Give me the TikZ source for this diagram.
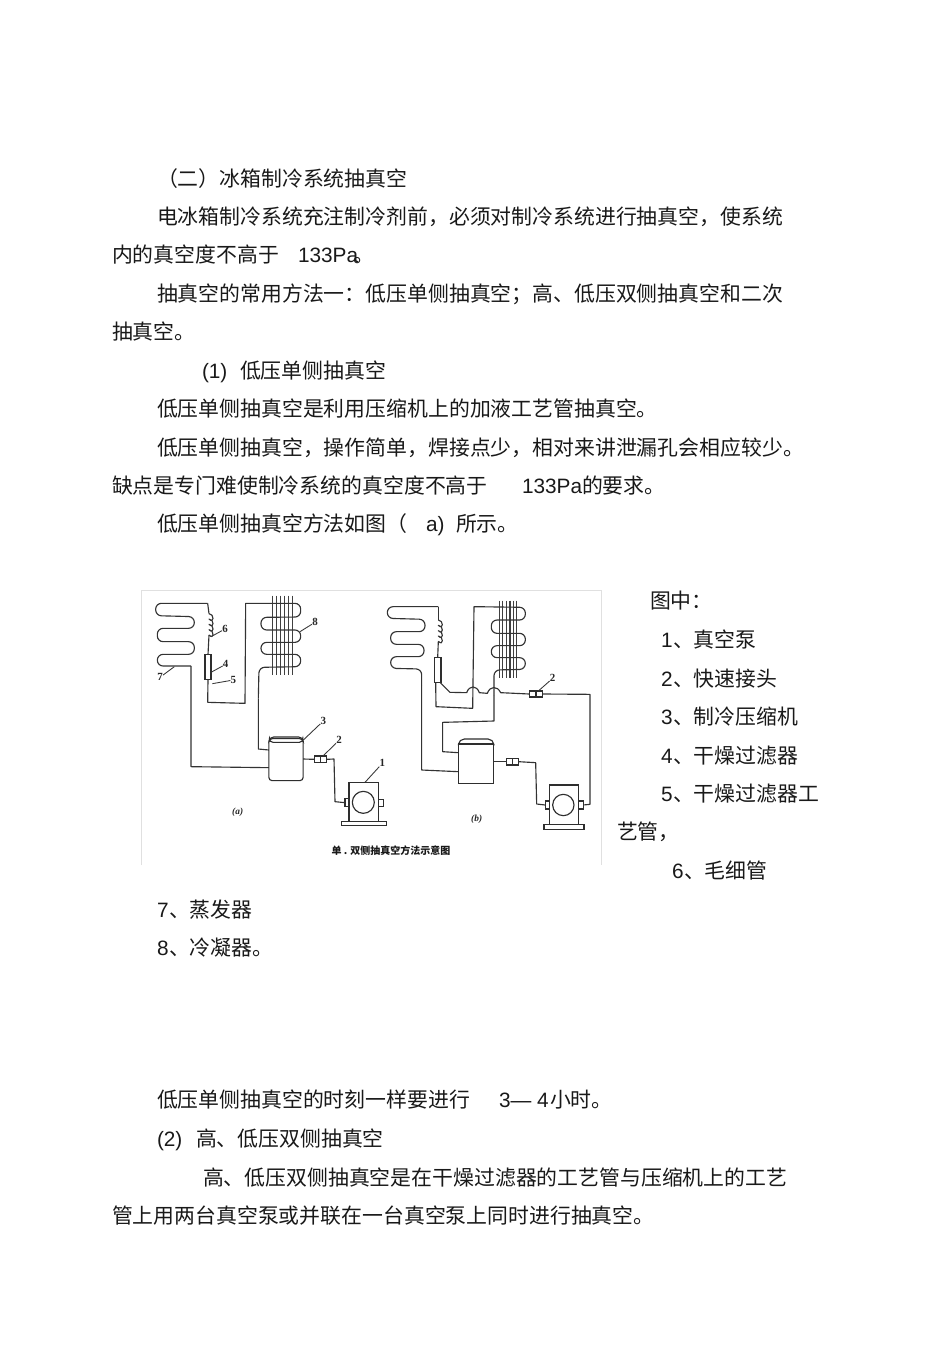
\documentclass[tikz,border=0pt]{standalone}
\usepackage{fontspec}
\setmainfont{Liberation Sans}
\newfontfamily\cjk{Noto Sans CJK SC}
\newfontfamily\lat{Liberation Sans}
\newfontfamily\digit{Liberation Serif}
\newcommand{\coilpath}[2]{%
(#1,#2) .. controls +(16,0) and +(16,16) .. +(0,16)
 .. controls +(16,0) and +(16,16) .. +(0,32)
 .. controls +(16,0) and +(16,16) .. +(0,48)
 .. controls +(16,0) and +(16,16) .. +(0,64)}
\tikzset{
 txt/.style={anchor=base west,inner sep=0pt,outer sep=0pt,text=black!90,font=\fontsize{15.65pt}{19pt}\selectfont\cjk},
 ltxt/.style={txt,font=\fontsize{15.6pt}{19pt}\selectfont\lat},
 pipe/.style={draw=black!80,line width=0.85pt,line join=round},
 grid line/.style={draw=black!75,line width=0.85pt},
 leader/.style={draw=black!78,line width=0.65pt},
 part/.style={draw=black!82,line width=0.85pt,fill=white,inner sep=0pt,outer sep=0pt},
 num/.style={inner sep=0pt,text=black!85,font=\fontsize{8.2pt}{9pt}\selectfont\digit\bfseries},
 tag/.style={inner sep=0pt,text=black!85,font=\fontsize{7pt}{8pt}\selectfont\digit\bfseries\itshape},
 frameline/.style={draw=black!12,line width=0.6pt}
}
\begin{document}
\begin{tikzpicture}[x=0.75pt,y=-0.75pt]
\useasboundingbox[fill=white] (0,0) rectangle (950,1345);
% ---------- text ----------
\node[txt] (t1) at (157,186) {（二）冰箱制冷系统抽真空};
\node[txt] (t2) at (157,224) {电冰箱制冷系统充注制冷剂前，必须对制冷系统进行抽真空，使系统};
\node[txt] (t3) at (112,262) {内的真空度不高于};
\node[ltxt] (t3b) at (298,262) {133Pa};
\node[txt] (t3c) at (353.5,262) {。};
\node[txt] (t4) at (157,301) {抽真空的常用方法一：低压单侧抽真空；高、低压双侧抽真空和二次};
\node[txt] (t5) at (112,339) {抽真空。};
\node[ltxt] (t6a) at (202,378) {(1)};
\node[txt] (t6) at (240,378) {低压单侧抽真空};
\node[txt] (t7) at (157,416) {低压单侧抽真空是利用压缩机上的加液工艺管抽真空。};
\node[txt] (t8) at (157,455) {低压单侧抽真空，操作简单，焊接点少，相对来讲泄漏孔会相应较少。};
\node[txt] (t9) at (112,493) {缺点是专门难使制冷系统的真空度不高于};
\node[ltxt] (t9b) at (522,493) {133Pa};
\node[txt] (t9c) at (582,493) {的要求。};
\node[txt] (t10) at (157,531) {低压单侧抽真空方法如图（};
\node[ltxt] (t10b) at (426,531) {a)};
\node[txt] (t10c) at (456,531) {所示。};
\node[txt] (l0) at (650,608) {图中：};
\node[ltxt] (n1) at (661,647) {1};
\node[txt] (l1) at (673,647) {、真空泵};
\node[ltxt] (n2) at (661,686) {2};
\node[txt] (l2) at (673,686) {、快速接头};
\node[ltxt] (n3) at (661,724) {3};
\node[txt] (l3) at (673,724) {、制冷压缩机};
\node[ltxt] (n4) at (661,763) {4};
\node[txt] (l4) at (673,763) {、干燥过滤器};
\node[ltxt] (n5) at (661,801) {5};
\node[txt] (l5) at (673,801) {、干燥过滤器工};
\node[txt] (l5b) at (617,839) {艺管，};
\node[ltxt] (n6) at (672,878) {6};
\node[txt] (l6) at (684,878) {、毛细管};
\node[ltxt] (n7) at (157,917) {7};
\node[txt] (l7) at (169,917) {、蒸发器};
\node[ltxt] (n8) at (157,955) {8};
\node[txt] (l8) at (169,955) {、冷凝器。};
\node[txt] (t11) at (157,1107) {低压单侧抽真空的时刻一样要进行};
\node[ltxt] (t11b) at (499,1107) {3— 4};
\node[txt] (t11c) at (550,1107) {小时。};
\node[ltxt] (t12a) at (157,1146) {(2)};
\node[txt] (t12) at (196,1146) {高、低压双侧抽真空};
\node[txt] (t13) at (203,1185) {高、低压双侧抽真空是在干燥过滤器的工艺管与压缩机上的工艺};
\node[txt] (t14) at (112,1223) {管上用两台真空泵或并联在一台真空泵上同时进行抽真空。};
% ---------- picture frame ----------
\coordinate (fa) at (141,865);
\coordinate (fb) at (141,590);
\coordinate (fc) at (601,590);
\coordinate (fd) at (601,865);
\draw[frameline] (fa) -- (fb) -- (fc) -- (fd);
% ---------- diagram (a) ----------
\begin{scope}[shift={(135,585)},x=0.25pt,y=-0.25pt]
 \foreach \gx in {412,425,437,448,460,472} \draw[grid line] (\gx,32) -- (\gx,270);
 \node[part,minimum width=4.5pt,minimum height=18.75pt] (drierA) at (219,246) {};
 \node[part,rounded corners=2.5pt,minimum width=25.75pt,minimum height=31.5pt] (compA) at (453,524) {};
 \node[part,minimum width=8.75pt,minimum height=5pt] (jointA) at (557,523) {};
 \node[part,minimum width=3pt,minimum height=5.75pt] (stubAl) at (636,653) {};
 \node[part,minimum width=22pt,minimum height=29.5pt] (pumpA) at (686,651) {};
 \node[part,minimum width=3.75pt,minimum height=5.5pt] (stubAr) at (737,654) {};
 \node[part,minimum width=33.75pt,minimum height=3pt] (baseA) at (687,716) {};
 \node[part,circle,minimum size=16.5pt] (rotorA) at (685,652) {};
 \draw[part] (jointA.north) -- (jointA.south);
 \draw[part,fill=none,rounded corners=3pt] (402,472) -- (404,456) -- (503,456) -- (505,472) -- cycle;
 % evaporator
 \coordinate (evA) at (218,55);
 \coordinate (evAe) at (168,243);
 \draw[pipe,rounded corners=4.3pt] (evA) -- (62,55) -- (62,92) -- (178,95) -- (178,130) -- (67,130) -- (67,170) -- (178,170) -- (178,208) -- (67,208) -- (67,243) -- (evAe);
 \draw[pipe] (evAe) -- (168,545) -- (compA.west|-168,548);
 % capillary
 \draw[pipe] (evA) -- (222,86);
 \draw[pipe] \coilpath{222}{86};
 \draw[pipe] (222,150) -- (drierA.north);
 % condenser
 \draw[pipe] (drierA.south) -- (218,352) -- (330,355) -- (332,55) -- (412,55);
 \draw[pipe,rounded corners=4.3pt] (412,55) -- (497,55) -- (497,96) -- (378,97) -- (378,135) -- (497,135) -- (497,172) -- (378,172) -- (378,208) -- (497,208) -- (497,245) -- (372,247) -- (370,340);
 \draw[pipe] (370,340) -- (370,492) -- (compA.west|-370,495);
 % to pump
 \draw[pipe] (compA.east|-505,522) -- (jointA.west);
 \draw[pipe] (jointA.east) -- (597,522) -- (600,650) -- (stubAl.west);
 % leaders and numbers
 \node[num] (a6) at (270,132) {6};
 \node[num] (a4) at (272,238) {4};
 \node[num] (a5) at (295,285) {5};
 \node[num] (a7) at (75,277) {7};
 \node[num] (a8) at (540,112) {8};
 \node[num] (a3) at (565,408) {3};
 \node[num] (a2) at (612,466) {2};
 \node[num] (a1) at (742,535) {1};
 \coordinate (a6p) at (228,155);
 \coordinate (a4p) at (228,262);
 \coordinate (a5p) at (232,296);
 \coordinate (a7p) at (118,245);
 \coordinate (a8p) at (495,140);
 \coordinate (a3p) at (505,465);
 \coordinate (a2p) at (565,512);
 \coordinate (a1p) at (690,592);
 \draw[leader] (a6p) -- (a6);
 \draw[leader] (a4p) -- (a4);
 \draw[leader] (a5p) -- (a5);
 \draw[leader] (a7p) -- (a7);
 \draw[leader] (a8p) -- (a8);
 \draw[leader] (a3p) -- (a3);
 \draw[leader] (a2p) -- (a2);
 \draw[leader] (a1p) -- (a1);
 \node[tag] (capa) at (308,682) {(a)};
\end{scope}
% ---------- diagram (b) ----------
\begin{scope}[shift={(370,585)},x=0.25pt,y=-0.25pt]
 \foreach \gx in {388,398,410,420,430,440} \draw[grid line] (\gx,47) -- (\gx,280);
 \node[part,minimum width=5pt,minimum height=18.5pt] (drierB) at (203,255) {};
 \node[part,minimum width=26.75pt,minimum height=29.5pt] (compB) at (318,536) {};
 \node[part,minimum width=8.75pt,minimum height=5pt] (jointB) at (428,530) {};
 \node[part,minimum width=10pt,minimum height=4.5pt] (jointC) at (498,327) {};
 \node[part,minimum width=3.75pt,minimum height=6pt] (stubBl) at (533,660) {};
 \node[part,minimum width=21.25pt,minimum height=29.5pt] (pumpB) at (582,659) {};
 \node[part,minimum width=3.75pt,minimum height=6pt] (stubBr) at (632,660) {};
 \node[part,minimum width=30pt,minimum height=4.25pt] (baseB) at (582,726) {};
 \node[part,circle,minimum size=16pt] (rotorB) at (580,660) {};
 \draw[part] (jointB.north) -- (jointB.south);
 \draw[part] (jointC.north) -- (jointC.south);
 \draw[part,fill=none,rounded corners=4pt] (265,481) -- (267,462) -- (370,462) -- (372,481);
 % evaporator
 \coordinate (evB) at (205,65);
 \coordinate (evBe) at (155,300);
 \draw[pipe,rounded corners=4.3pt] (evB) -- (52,65) -- (52,100) -- (165,103) -- (165,140) -- (62,140) -- (62,178) -- (162,178) -- (162,215) -- (62,215) -- (62,250) -- (155,252) -- (evBe);
 \draw[pipe] (evBe) -- (155,555) -- (compB.west|-155,560);
 % capillary
 \draw[pipe] (evB) -- (205,105);
 \draw[pipe] \coilpath{205}{105};
 \draw[pipe] (205,169) -- (drierB.north);
 % condenser
 \draw[pipe] (197,292) -- (198,365) -- (308,370) -- (312,65) -- (388,66);
 \draw[pipe,rounded corners=4.3pt] (388,66) -- (466,67) -- (466,105) -- (364,105) -- (364,145) -- (466,145) -- (466,182) -- (364,182) -- (364,218) -- (466,218) -- (466,253) -- (372,255) -- (372,330);
 \draw[pipe] (372,330) -- (372,408) -- (218,412) -- (218,500) -- (compB.west|-218,503);
 % process pipe with hops
 \draw[pipe] (210,292) -- (240,322) -- (290,323) .. controls (298,300) and (320,300) .. (328,323) -- (352,325) .. controls (360,302) and (382,302) .. (392,323) -- (jointC.west);
 \draw[pipe] (jointC.east) -- (660,328) -- (660,658) -- (stubBr.east);
 % to pump
 \draw[pipe] (compB.east|-372,530) -- (jointB.west);
 \draw[pipe] (jointB.east) -- (497,533) -- (500,657) -- (stubBl.west);
 \node[num] (b2) at (548,280) {2};
 \coordinate (b2p) at (505,318);
 \draw[leader] (b2p) -- (b2);
 \node[tag] (capb) at (320,702) {(b)};
\end{scope}
\node[inner sep=0pt,text=black!90,font=\fontsize{7.5pt}{9pt}\selectfont\cjk\bfseries] (cap) at (391,851) {单 . 双侧抽真空方法示意图};
\end{tikzpicture}
\end{document}
